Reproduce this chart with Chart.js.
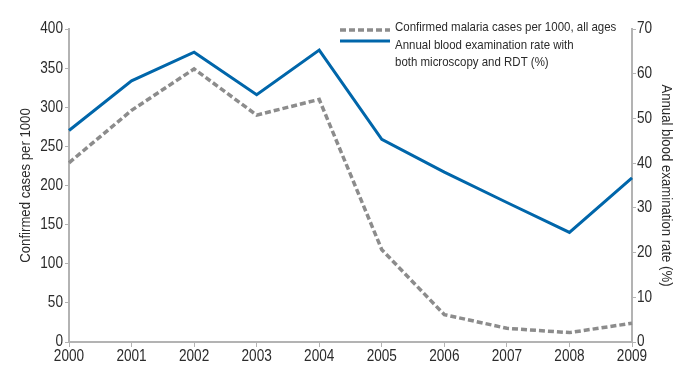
<!DOCTYPE html>
<html>
<head>
<meta charset="utf-8">
<script src="https://cdn.jsdelivr.net/npm/chart.js@4/dist/chart.umd.min.js"></script>
<style>
  html, body { margin: 0; padding: 0; background: #fff; }
  #wrap { position: relative; width: 676px; height: 367px; }
</style>
</head>
<body>
<div id="wrap"><canvas id="myChart" width="676" height="367"></canvas></div>
<script>
const years = ["2000", "2001", "2002", "2003", "2004", "2005", "2006", "2007", "2008", "2009"];
const confirmedCases = [229, 296, 349, 290, 310, 118, 35, 17.5, 12, 24];
const examRate = [47.3, 58.4, 64.8, 55.3, 65.3, 45.3, 38, 31.2, 24.5, 36.7];
const casesTicks = [0, 50, 100, 150, 200, 250, 300, 350, 400];
const rateTicks = [0, 10, 20, 30, 40, 50, 60, 70];
const legendLines = [
  ["Confirmed malaria cases per 1000, all ages"],
  ["Annual blood examination rate with", "both microscopy and RDT (%)"],
];

const FONT = "'Liberation Sans', Arial, sans-serif";
const axisGray = "#b3b3b3";
const textColor = "#2b2b2b";

// no condensed face installed: squeeze text horizontally
const SX = 0.85;
let ctx = document.getElementById("myChart").getContext("2d");
const rawFill = ctx.fillText;
ctx.fillText = function (text, x, y, maxWidth) {
  this.save();
  this.translate(x, y);
  this.scale(SX, 1);
  if (maxWidth === undefined) rawFill.call(this, text, 0, 0);
  else rawFill.call(this, text, 0, 0, maxWidth / SX);
  this.restore();
};
const rawMeasure = ctx.measureText;
ctx.measureText = function (text) {
  const m = rawMeasure.call(this, text);
  return {
    width: m.width * SX,
    actualBoundingBoxAscent: m.actualBoundingBoxAscent,
    actualBoundingBoxDescent: m.actualBoundingBoxDescent,
  };
};

// legend drawn by hand so the second entry can wrap onto two lines
const sideLegend = {
  id: "sideLegend",
  afterDraw(chart) {
    const c = chart.ctx;
    const rows = [
      { lineY: 30, textY: [31], ds: chart.data.datasets[0] },
      { lineY: 41, textY: [49, 66], ds: chart.data.datasets[1] },
    ];
    c.save();
    c.font = "13.5px " + FONT;
    c.fillStyle = textColor;
    c.textBaseline = "alphabetic";
    c.textAlign = "left";
    rows.forEach((r, i) => {
      c.beginPath();
      c.strokeStyle = r.ds.borderColor;
      c.lineWidth = r.ds.borderWidth;
      c.setLineDash(r.ds.borderDash || []);
      c.moveTo(340, r.lineY);
      c.lineTo(390, r.lineY);
      c.stroke();
      legendLines[i].forEach((t, j) => c.fillText(t, 395, r.textY[j]));
    });
    c.restore();
  },
};

new Chart(ctx, {
  type: "line",
  data: {
    labels: years,
    datasets: [
      {
        label: legendLines[0].join(" "),
        data: confirmedCases,
        yAxisID: "y",
        borderColor: "#8c8c8c",
        borderWidth: 3.5,
        borderDash: [6, 3],
        pointRadius: 0,
        tension: 0,
      },
      {
        label: legendLines[1].join(" "),
        data: examRate,
        yAxisID: "y1",
        borderColor: "#0066aa",
        borderWidth: 3,
        pointRadius: 0,
        tension: 0,
      },
    ],
  },
  options: {
    responsive: false,
    animation: false,
    layout: { padding: { top: 29, left: 16, right: 0, bottom: 0 } },
    plugins: { legend: { display: false }, tooltip: { enabled: false } },
    scales: {
      x: {
        offset: false,
        grid: { drawOnChartArea: false, drawTicks: true, tickLength: 5, color: axisGray },
        border: { color: axisGray, width: 2 },
        ticks: { color: textColor, font: { family: FONT, size: 16 }, padding: 0, maxRotation: 0, autoSkip: false },
        afterFit: (s) => { s.height = 25; },
      },
      y: {
        position: "left",
        min: 0,
        max: 400,
        afterBuildTicks: (s) => { s.ticks = casesTicks.map((v) => ({ value: v })); },
        grid: { drawOnChartArea: false, tickLength: 4, color: axisGray },
        border: { color: axisGray, width: 2 },
        ticks: { color: textColor, font: { family: FONT, size: 16 }, padding: 2 },
        title: { display: true, text: "Confirmed cases per 1000", color: textColor, font: { family: FONT, size: 15.5 }, padding: 0 },
        afterFit: (s) => { s.width = 53; },
      },
      y1: {
        position: "right",
        min: 0,
        max: 70,
        afterBuildTicks: (s) => { s.ticks = rateTicks.map((v) => ({ value: v })); },
        grid: { drawOnChartArea: false, tickLength: 4, color: axisGray },
        border: { color: axisGray, width: 2 },
        ticks: { color: textColor, font: { family: FONT, size: 16 }, padding: 1 },
        title: { display: true, text: "Annual blood examination rate (%)", color: textColor, font: { family: FONT, size: 15.5 }, padding: 0 },
        afterFit: (s) => { s.width = 44; },
      },
    },
  },
  plugins: [sideLegend],
});
</script>
</body>
</html>
